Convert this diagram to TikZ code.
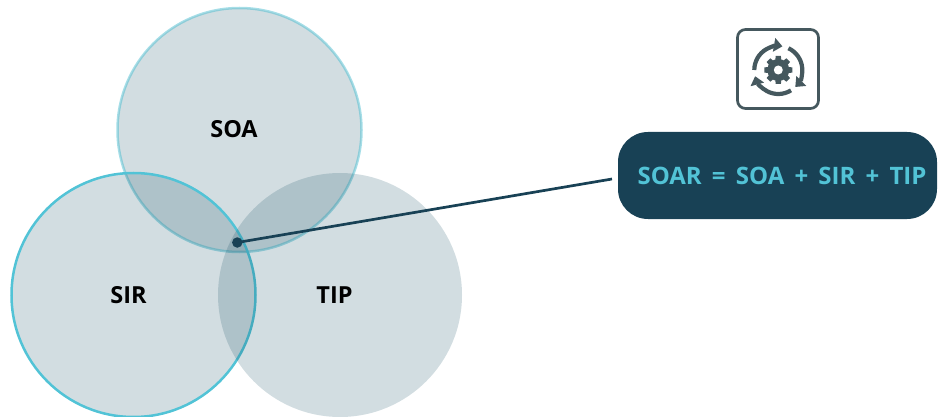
\documentclass[tikz,border=0pt]{standalone}
\usepackage{fontspec}
\setmainfont{Open Sans}
\usetikzlibrary{arrows.meta}
\definecolor{navy}{HTML}{184155}
\definecolor{tint}{HTML}{124C61}
\definecolor{cyanA}{HTML}{4DBDD0}
\definecolor{cyanB}{HTML}{52C3D6}
\definecolor{iconc}{HTML}{45585E}
\tikzset{
  setc/.style={circle,minimum size=244pt,inner sep=0pt,fill=tint,fill opacity=0.19},
  lab/.style={font=\fontsize{23.5}{27}\selectfont\bfseries,text=black,inner sep=0pt},
  cyc/.style={draw=iconc,line width=4.2pt,-{Triangle[length=8.5pt,width=13.5pt]}},
}
\begin{document}
\begin{tikzpicture}[x=1pt,y=-1pt]
\useasboundingbox (0,0) rectangle (943,417);
\node[setc,draw=cyanA,draw opacity=0.5,line width=2.5pt] (soa) at (239.5,130) {};
\node[setc,draw=cyanB,draw opacity=1,line width=2.5pt] (sir) at (133.5,295) {};
\node[setc] (tip) at (340,295) {};
\node[lab] (soal) at (234,129) {SOA};
\node[lab] (sirl) at (128.5,295) {SIR};
\node[lab] (tipl) at (334.5,295) {TIP};
\node[circle,fill=navy,minimum size=10.5pt,inner sep=0pt] (dot) at (237.3,242.5) {};
\node[fill=navy,rounded corners=30pt,minimum width=319pt,minimum height=87pt,inner sep=0pt] (pill) at (777.5,175.5) {};
\node[text=cyanB,inner sep=0pt,font=\fontsize{24}{28}\selectfont\bfseries] (pilltext) at (782,175.5)
      {\spaceskip=10.2pt SOAR = SOA + SIR + TIP};
\coordinate (lineend) at (612,179);
\draw[navy,line width=2.7pt] (dot.center) -- (lineend);
% icon
\node[draw=iconc,line width=2.7pt,rounded corners=8pt,minimum width=81pt,minimum height=79pt,inner sep=0pt] (iconbox) at (778,69) {};
\coordinate (ic) at (778.3,70);
\draw[cyc] (ic) ++(180:24pt) arc[start angle=180,end angle=80,radius=24pt];
\draw[cyc] (ic) ++(65:24pt) arc[start angle=65,end angle=-45,radius=24pt];
\draw[cyc] (ic) ++(-58:24pt) arc[start angle=-58,end angle=-165,radius=24pt];
\fill[iconc] (ic) circle[radius=11pt];
\foreach \a in {0,45,...,315}{
  \fill[iconc,shift={(ic)},rotate=\a] (-3.2pt,8pt) -- (-2.6pt,14pt) -- (2.6pt,14pt) -- (3.2pt,8pt) -- cycle;
}
\fill[white] (ic) circle[radius=4.5pt];
\end{tikzpicture}
\end{document}
